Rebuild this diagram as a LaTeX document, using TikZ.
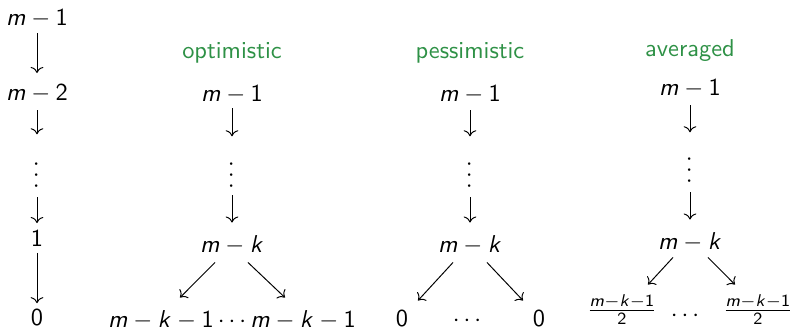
\documentclass[tikz,border=0pt]{standalone}
\usepackage{tikz}
\usetikzlibrary{arrows.meta}
\definecolor{mGreen}{HTML}{2E9146}
% sans serif math, as on the slides
\DeclareSymbolFont{sfup}{OT1}{cmss}{m}{n}
\DeclareSymbolFont{sfit}{OT1}{cmss}{m}{sl}
\DeclareMathSymbol{m}{\mathalpha}{sfit}{`m}
\DeclareMathSymbol{k}{\mathalpha}{sfit}{`k}
\DeclareMathSymbol{0}{\mathalpha}{sfup}{`0}
\DeclareMathSymbol{1}{\mathalpha}{sfup}{`1}
\DeclareMathSymbol{2}{\mathalpha}{sfup}{`2}

\begin{document}
\begin{tikzpicture}[x=0.41pt, y=-0.41pt, >={To},
  every node/.style={inner sep=0pt},
  title/.style={font=\sffamily, text=mGreen, anchor=base},
  lower/.style={anchor=base},
  vdotsnode/.style={rotate=90},
  arr/.style={->, line width=0.4pt}]
  \useasboundingbox (0,0) rectangle (794,329);
  % plain chain
  \node (a1) at (37,19) {$m-1$};
  \node (a2) at (37,94) {$m-2$};
  \node[vdotsnode] (a3) at (37,175) {$\cdots$};
  \node (a4) at (37,238) {$1$};
  \node (a5) at (37,317) {$0$};
  \draw[arr] ([shift={(0,4.5)}]a1.south) -- ([shift={(0,-11.5)}]a2.north);
  \draw[arr] ([shift={(0,6.5)}]a2.south) -- ([shift={(0,-26)}]a3.east);
  \draw[arr] ([shift={(0,7.5)}]a3.west) -- ([shift={(0,-6.5)}]a4.north);
  \draw[arr] ([shift={(0,6.5)}]a4.south) -- ([shift={(0,-5.3)}]a5.north);
  % optimistic
  \node[title] (tb) at (232,58) {optimistic};
  \node (b1) at (232,95) {$m-1$};
  \node[vdotsnode] (b2) at (232,175) {$\cdots$};
  \node (b3) at (232,245) {$m-k$};
  \node[lower] (b4) at (232,327) {$m-k-1\cdots m-k-1$};
  \draw[arr] ([shift={(0,3.5)}]b1.south) -- ([shift={(0,-24)}]b2.east);
  \draw[arr] ([shift={(0,5.5)}]b2.west) -- ([shift={(0,-12.5)}]b3.north);
  \draw[arr] ([shift={(-17,7.5)}]b3.south) -- ([shift={(-52,-12)}]b4.north);
  \draw[arr] ([shift={(16,7.5)}]b3.south) -- ([shift={(53,-12)}]b4.north);
  % pessimistic
  \node[title] (tc) at (470,58) {pessimistic};
  \node (c1) at (470,95) {$m-1$};
  \node[vdotsnode] (c2) at (470,175) {$\cdots$};
  \node (c3) at (470,245) {$m-k$};
  \node[lower] (c4) at (402,326) {$0$};
  \node[lower] (c5) at (467,326) {$\cdots$};
  \node[lower] (c6) at (539,326) {$0$};
  \draw[arr] ([shift={(0,5.5)}]c1.south) -- ([shift={(0,-24)}]c2.east);
  \draw[arr] ([shift={(0,7.5)}]c2.west) -- ([shift={(0,-12.5)}]c3.north);
  \draw[arr] ([shift={(-17,7.5)}]c3.south) -- ([shift={(16,-9)}]c4.north);
  \draw[arr] ([shift={(17,7.5)}]c3.south) -- ([shift={(-16,-9)}]c6.north);
  % averaged
  \node[title] (td) at (690,56) {averaged};
  \node (d1) at (690,89) {$m-1$};
  \node[vdotsnode] (d2) at (690,170) {$\cdots$};
  \node (d3) at (690,242) {$m-k$};
  \node (d4) at (622,310) {$\frac{m-k-1}{2}$};
  \node[lower] (d5) at (685,321) {$\cdots$};
  \node (d6) at (758,310) {$\frac{m-k-1}{2}$};
  \draw[arr] ([shift={(0,6.5)}]d1.south) -- ([shift={(0,-23)}]d2.east);
  \draw[arr] ([shift={(0,7.5)}]d2.west) -- ([shift={(0,-12.5)}]d3.north);
  \draw[arr] ([shift={(-17,5.5)}]d3.south) -- ([shift={(26,-10)}]d4.north);
  \draw[arr] ([shift={(18,5.5)}]d3.south) -- ([shift={(-23,-10)}]d6.north);
\end{tikzpicture}
\end{document}
